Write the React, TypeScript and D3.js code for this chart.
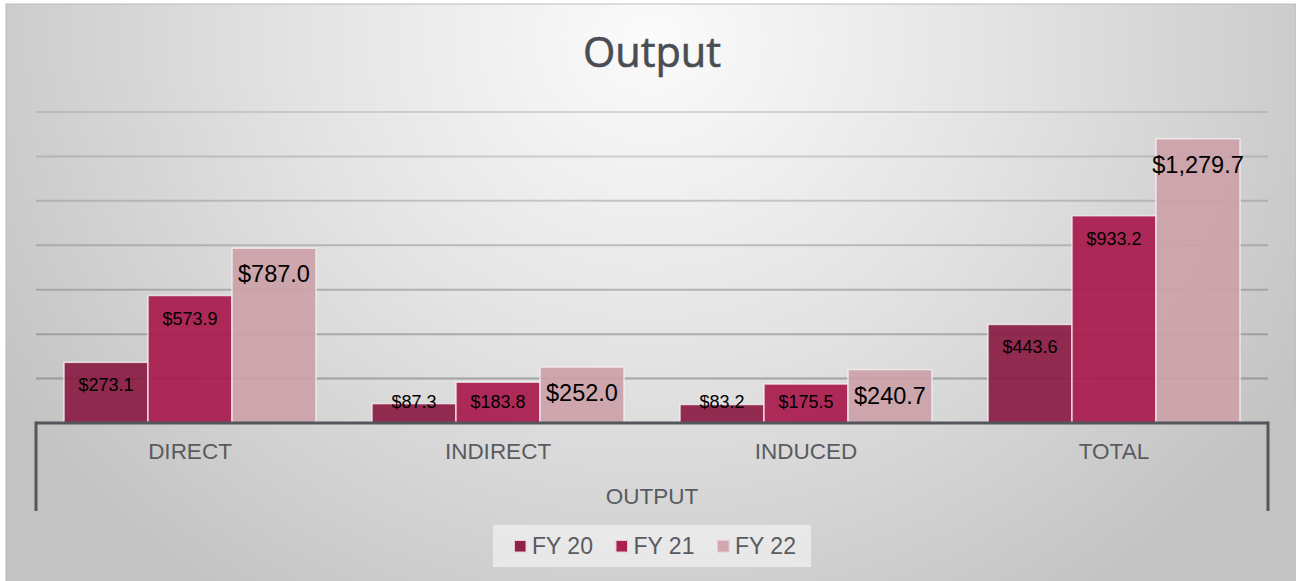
import React from "react";
import * as d3 from "d3";

const categories = ["DIRECT", "INDIRECT", "INDUCED", "TOTAL"];
const seriesNames = ["FY 20", "FY 21", "FY 22"];
const fy20 = [273.1, 87.3, 83.2, 443.6];
const fy21 = [573.9, 183.8, 175.5, 933.2];
const fy22 = [787.0, 252.0, 240.7, 1279.7];
const yTicks = [200, 400, 600, 800, 1000, 1200, 1400];
const groupTitle = "OUTPUT";
const chartTitle = "Output";

const seriesValues = [fy20, fy21, fy22];
const colors = ["#8a1b43", "#a8194c", "#cba2a8"];
const legendColors = ["#8e2248", "#ab2252", "#d0a9ae"];

const W = 1296;
const H = 581;
const left = 36;
const right = 1268;
const baseY = 423;
const topY = 112;

export default function App() {
  const x = d3.scaleBand<string>().domain(categories).range([left, right]).padding(0);
  const bw = x.bandwidth();
  const xs = d3
    .scaleBand<string>()
    .domain(seriesNames)
    .range([bw * (28 / 308), bw * (280 / 308)])
    .padding(0);
  const y = d3.scaleLinear().domain([0, 1400]).range([baseY, topY]);
  const fmt = (v: number) => "$" + d3.format(",.1f")(v);
  const font = "'Liberation Sans', Arial, sans-serif";

  const legendX = 514;
  const legendStep = 101.5;

  return (
    <svg
      width={W}
      height={H}
      style={{ position: "absolute", left: 0, top: 0 }}
      xmlns="http://www.w3.org/2000/svg"
    >
      <defs>
        <radialGradient id="bg" cx="650" cy="40" r="760" gradientUnits="userSpaceOnUse" gradientTransform="translate(650 40) scale(1 0.9) translate(-650 -40)">
          <stop offset="0" stopColor="#fbfbfb" />
          <stop offset="0.45" stopColor="#e4e4e4" />
          <stop offset="1" stopColor="#c3c3c3" />
        </radialGradient>
      </defs>
      <rect x={6} y={4} width={W - 6} height={H} fill="url(#bg)" stroke="#b9bcc0" strokeWidth={1} />

      <text
        x={(left + right) / 2}
        y={67}
        textAnchor="middle"
        fontFamily="'Open Sans', sans-serif"
        fontWeight={500}
        fontSize={41.5}
        fill="#4a4d52"
        stroke="#4a4d52"
        strokeWidth={0.6}
      >
        {chartTitle}
      </text>

      {yTicks.map((t, i) => (
        <line
          key={t}
          x1={left}
          x2={right}
          y1={y(t)}
          y2={y(t)}
          stroke="#808080"
          strokeOpacity={0.62 - i * 0.06}
          strokeWidth={2}
        />
      ))}

      {categories.map((c, ci) => (
        <g key={c} transform={`translate(${x(c)},0)`}>
          {seriesNames.map((s, si) => {
            const v = seriesValues[si][ci];
            const bx = xs(s)!;
            const top = y(v);
            const big = si === 2;
            const lblY = big ? top + 34 : Math.min(top + 29, baseY - 15);
            return (
              <g key={s}>
                <rect
                  x={bx}
                  y={top}
                  width={xs.bandwidth()}
                  height={baseY - top}
                  fill={colors[si]}
                  fillOpacity={0.92}
                  stroke="#f4f0f1"
                  strokeOpacity={0.8}
                  strokeWidth={1.5}
                />
                <text
                  x={bx + xs.bandwidth() / 2}
                  y={lblY}
                  textAnchor="middle"
                  fontFamily={font}
                  fontSize={big ? 23.5 : 18}
                  fill="#000"
                >
                  {fmt(v)}
                </text>
              </g>
            );
          })}
          <text
            x={bw / 2}
            y={458.5}
            textAnchor="middle"
            fontFamily={font}
            fontSize={22.5}
            fill="#595b5f"
          >
            {c}
          </text>
        </g>
      ))}

      <line x1={left} x2={right} y1={baseY} y2={baseY} stroke="#53565a" strokeWidth={3} />
      <line x1={left} x2={left} y1={baseY - 1.5} y2={511} stroke="#53565a" strokeWidth={3} />
      <line x1={right} x2={right} y1={baseY - 1.5} y2={511} stroke="#53565a" strokeWidth={3} />

      <text
        x={(left + right) / 2}
        y={503.5}
        textAnchor="middle"
        fontFamily={font}
        fontSize={22.5}
        fill="#595b5f"
      >
        {groupTitle}
      </text>

      <rect x={493} y={525} width={318} height={42} fill="#ececec" fillOpacity={0.85} />
      {seriesNames.map((s, i) => (
        <g key={s} transform={`translate(${legendX + i * legendStep},0)`}>
          <rect x={0.5} y={540.5} width={11.5} height={11.5} fill={legendColors[i]} stroke="#e8c9d1" strokeWidth={1} />
          <text x={18} y={554} fontFamily={font} fontSize={23} fill="#595b5f">
            {s}
          </text>
        </g>
      ))}
    </svg>
  );
}
